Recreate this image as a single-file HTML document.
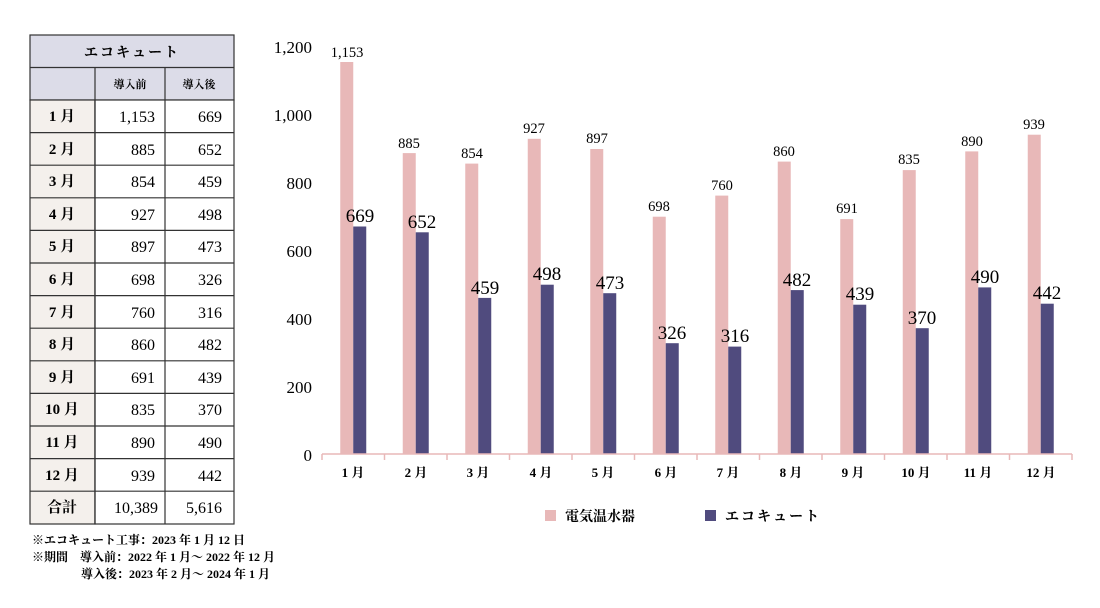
<!DOCTYPE html>
<html><head><meta charset="utf-8"><style>
body{margin:0;background:#fff;}
svg text{font-family:"Liberation Serif","Noto Serif CJK SC",serif;}
.j{font-family:"Liberation Serif","Noto Serif CJK JP",serif;font-weight:bold;}
</style></head><body>
<svg width="1100" height="603" xmlns="http://www.w3.org/2000/svg">
<g stroke="#333" stroke-width="1.2">
<rect x="30" y="35" width="204" height="65" fill="#dcdce8"/>
<rect x="30" y="100" width="65" height="424" fill="#f4f0ec"/>
<rect x="95" y="100" width="139" height="424" fill="#fff"/>
<line x1="30" y1="67.5" x2="234" y2="67.5"/>
<line x1="95" y1="67.5" x2="95" y2="524"/>
<line x1="165" y1="67.5" x2="165" y2="524"/>
</g>
<g stroke="#333" stroke-width="1.2">
<line x1="30" y1="132.6" x2="234" y2="132.6"/><line x1="30" y1="165.2" x2="234" y2="165.2"/><line x1="30" y1="197.8" x2="234" y2="197.8"/><line x1="30" y1="230.4" x2="234" y2="230.4"/><line x1="30" y1="263" x2="234" y2="263"/><line x1="30" y1="295.6" x2="234" y2="295.6"/><line x1="30" y1="328.2" x2="234" y2="328.2"/><line x1="30" y1="360.8" x2="234" y2="360.8"/><line x1="30" y1="393.4" x2="234" y2="393.4"/><line x1="30" y1="426" x2="234" y2="426"/><line x1="30" y1="458.6" x2="234" y2="458.6"/><line x1="30" y1="491.2" x2="234" y2="491.2"/>
</g>
<text class="j" x="132" y="57" font-size="14" text-anchor="middle" letter-spacing="2">エコキュート</text>
<text class="j" x="130" y="88" font-size="11" text-anchor="middle">導入前</text>
<text class="j" x="199" y="88" font-size="11" text-anchor="middle">導入後</text>
<g font-size="16">
<g class="j" text-anchor="middle" font-size="15">
<text x="62" y="121">1 月</text><text x="62" y="154">2 月</text><text x="62" y="186">3 月</text><text x="62" y="219">4 月</text><text x="62" y="251">5 月</text><text x="62" y="284">6 月</text><text x="62" y="317">7 月</text><text x="62" y="349">8 月</text><text x="62" y="382">9 月</text><text x="62" y="414">10 月</text><text x="62" y="447">11 月</text><text x="62" y="480">12 月</text><text x="62" y="512">合計</text>
</g>
<g text-anchor="end">
<text x="155" y="122">1,153</text><text x="155" y="155">885</text><text x="155" y="187">854</text><text x="155" y="220">927</text><text x="155" y="252">897</text><text x="155" y="285">698</text><text x="155" y="318">760</text><text x="155" y="350">860</text><text x="155" y="383">691</text><text x="155" y="415">835</text><text x="155" y="448">890</text><text x="155" y="481">939</text><text x="158" y="513">10,389</text>
<text x="222" y="122">669</text><text x="222" y="155">652</text><text x="222" y="187">459</text><text x="222" y="220">498</text><text x="222" y="252">473</text><text x="222" y="285">326</text><text x="222" y="318">316</text><text x="222" y="350">482</text><text x="222" y="383">439</text><text x="222" y="415">370</text><text x="222" y="448">490</text><text x="222" y="481">442</text><text x="222" y="513">5,616</text>
</g></g>
<g class="j" font-size="12">
<text x="32" y="544">※エコキュート工事：2023 年 1 月 12 日</text>
<text x="32" y="561">※期間　導入前：2022 年 1 月～ 2022 年 12 月</text>
<text x="81" y="578">導入後：2023 年 2 月～ 2024 年 1 月</text>
</g>
<g font-size="17" text-anchor="end">
<text x="312" y="53">1,200</text><text x="312" y="121">1,000</text><text x="312" y="189">800</text><text x="312" y="257">600</text><text x="312" y="325">400</text><text x="312" y="393">200</text><text x="312" y="461">0</text>
</g>
<g fill="#e8b8b8">
<rect x="340.25" y="62" width="13" height="392"/><rect x="402.75" y="153.1" width="13" height="300.9"/><rect x="465.25" y="163.6" width="13" height="290.4"/><rect x="527.75" y="138.8" width="13" height="315.2"/><rect x="590.25" y="149" width="13" height="305"/><rect x="652.75" y="216.7" width="13" height="237.3"/><rect x="715.25" y="195.6" width="13" height="258.4"/><rect x="777.75" y="161.6" width="13" height="292.4"/><rect x="840.25" y="219.1" width="13" height="234.9"/><rect x="902.75" y="170.1" width="13" height="283.9"/><rect x="965.25" y="151.4" width="13" height="302.6"/><rect x="1027.75" y="134.7" width="13" height="319.3"/>
</g>
<g fill="#504b7e">
<rect x="353.25" y="226.5" width="13" height="227.5"/><rect x="415.75" y="232.3" width="13" height="221.7"/><rect x="478.25" y="297.9" width="13" height="156.1"/><rect x="540.75" y="284.7" width="13" height="169.3"/><rect x="603.25" y="293.2" width="13" height="160.8"/><rect x="665.75" y="343.2" width="13" height="110.8"/><rect x="728.25" y="346.6" width="13" height="107.4"/><rect x="790.75" y="290.1" width="13" height="163.9"/><rect x="853.25" y="304.7" width="13" height="149.3"/><rect x="915.75" y="328.2" width="13" height="125.8"/><rect x="978.25" y="287.4" width="13" height="166.6"/><rect x="1040.75" y="303.7" width="13" height="150.3"/>
</g>
<g font-size="14.5" text-anchor="middle">
<text x="347" y="57">1,153</text><text x="409" y="148">885</text><text x="472" y="158">854</text><text x="534" y="133">927</text><text x="597" y="143">897</text><text x="659" y="211">698</text><text x="722" y="190">760</text><text x="784" y="156">860</text><text x="847" y="213">691</text><text x="909" y="164">835</text><text x="972" y="146">890</text><text x="1034" y="129">939</text>
</g>
<g font-size="19" text-anchor="middle">
<text x="360" y="222">669</text><text x="422" y="228">652</text><text x="485" y="294">459</text><text x="547" y="280">498</text><text x="610" y="289">473</text><text x="672" y="339">326</text><text x="735" y="342">316</text><text x="797" y="286">482</text><text x="860" y="300">439</text><text x="922" y="324">370</text><text x="985" y="283">490</text><text x="1047" y="299">442</text>
</g>
<g stroke="#e8b8b8" stroke-width="1.5">
<line x1="322" y1="454" x2="1072" y2="454"/>
<line x1="322" y1="454" x2="322" y2="460"/><line x1="384.5" y1="454" x2="384.5" y2="460"/><line x1="447" y1="454" x2="447" y2="460"/><line x1="509.5" y1="454" x2="509.5" y2="460"/><line x1="572" y1="454" x2="572" y2="460"/><line x1="634.5" y1="454" x2="634.5" y2="460"/><line x1="697" y1="454" x2="697" y2="460"/><line x1="759.5" y1="454" x2="759.5" y2="460"/><line x1="822" y1="454" x2="822" y2="460"/><line x1="884.5" y1="454" x2="884.5" y2="460"/><line x1="947" y1="454" x2="947" y2="460"/><line x1="1009.5" y1="454" x2="1009.5" y2="460"/><line x1="1072" y1="454" x2="1072" y2="460"/>
</g>
<g class="j" font-size="13" text-anchor="middle">
<text x="353" y="477">1 月</text><text x="416" y="477">2 月</text><text x="478" y="477">3 月</text><text x="541" y="477">4 月</text><text x="603" y="477">5 月</text><text x="666" y="477">6 月</text><text x="728" y="477">7 月</text><text x="791" y="477">8 月</text><text x="853" y="477">9 月</text><text x="916" y="477">10 月</text><text x="978" y="477">11 月</text><text x="1041" y="477">12 月</text>
</g>
<rect x="545" y="510" width="11" height="11" fill="#e8b8b8"/>
<text class="j" x="565" y="521" font-size="14">電気温水器</text>
<rect x="705" y="510" width="11" height="11" fill="#504b7e"/>
<text class="j" x="725" y="521" font-size="14" letter-spacing="2">エコキュート</text>
</svg>
</body></html>
